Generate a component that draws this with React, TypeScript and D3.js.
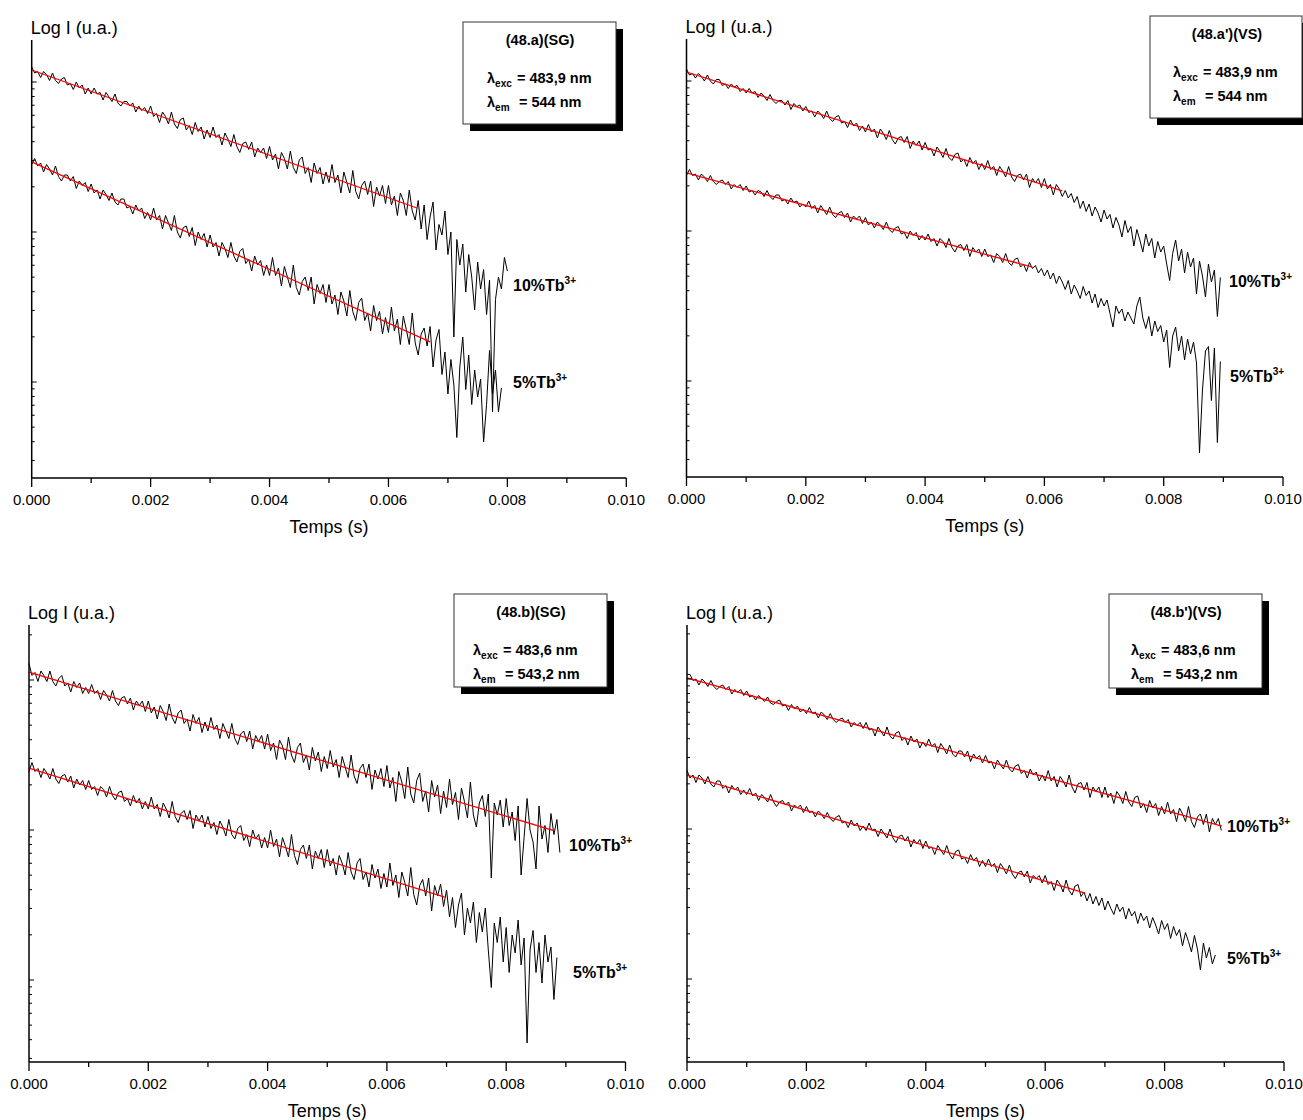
import React from "react";
import * as d3 from "d3";

// ---------- data ----------
const TIME_STEP = 0.00005; // s between samples
const X_TICKS = [0, 0.002, 0.004, 0.006, 0.008, 0.01];
const X_TICK_LABELS = ["0.000", "0.002", "0.004", "0.006", "0.008", "0.010"];
const X_MINOR = [0.001, 0.003, 0.005, 0.007, 0.009];
const SERIES_LABELS = ["10%Tb", "5%Tb"];

// log10 I (u.a.), one value every TIME_STEP
const TL_10 = [
  4.10,4.06,4.07,4.03,4.07,4.05,4.01,4.06,4.01,3.99,
  4.02,4.03,3.98,3.99,3.95,4.00,3.96,3.98,3.92,3.96,
  3.92,3.96,3.92,3.93,3.88,3.93,3.90,3.87,3.92,3.86,
  3.84,3.87,3.87,3.84,3.86,3.80,3.84,3.81,3.83,3.79,
  3.84,3.77,3.79,3.73,3.80,3.77,3.72,3.80,3.72,3.69,
  3.75,3.76,3.68,3.71,3.65,3.73,3.67,3.70,3.62,3.68,
  3.63,3.70,3.63,3.65,3.58,3.66,3.62,3.57,3.65,3.57,
  3.53,3.59,3.60,3.55,3.60,3.50,3.56,3.53,3.56,3.49,
  3.57,3.48,3.52,3.42,3.53,3.49,3.42,3.54,3.43,3.39,
  3.48,3.50,3.39,3.43,3.33,3.46,3.39,3.43,3.32,3.40,
  3.33,3.45,3.33,3.38,3.26,3.40,3.33,3.26,3.41,3.27,
  3.22,3.31,3.34,3.25,3.34,3.17,3.30,3.24,3.31,3.19,
  3.31,3.18,3.24,3.11,3.26,3.21,3.11,3.28,3.14,3.08,
  3.21,3.02,3.18,2.95,3.10,3.20,2.88,3.05,2.98,3.14,
  2.85,3.00,2.30,2.95,2.78,2.92,2.60,2.85,2.70,2.48,
  2.80,2.62,2.75,2.45,2.68,1.80,2.55,2.70,2.62,2.83,2.74,
];
const TL_5 = [
  3.45,3.49,3.44,3.46,3.40,3.45,3.42,3.38,3.44,3.37,
  3.34,3.38,3.38,3.34,3.37,3.29,3.34,3.31,3.33,3.27,
  3.32,3.26,3.28,3.22,3.28,3.25,3.21,3.26,3.20,3.18,
  3.22,3.22,3.16,3.17,3.12,3.18,3.14,3.16,3.09,3.13,
  3.08,3.16,3.08,3.11,3.02,3.11,3.06,3.01,3.11,3.00,
  2.96,3.03,3.04,2.97,3.03,2.91,3.00,2.95,2.99,2.90,
  2.98,2.90,2.93,2.84,2.93,2.89,2.83,2.93,2.84,2.80,
  2.87,2.89,2.79,2.82,2.74,2.84,2.78,2.81,2.71,2.78,
  2.71,2.83,2.71,2.76,2.64,2.77,2.70,2.63,2.78,2.63,
  2.58,2.67,2.70,2.61,2.70,2.52,2.65,2.59,2.65,2.53,
  2.65,2.52,2.58,2.45,2.60,2.54,2.44,2.61,2.47,2.41,
  2.53,2.56,2.41,2.46,2.34,2.51,2.41,2.47,2.32,2.43,
  2.33,2.50,2.34,2.42,2.25,2.44,2.35,2.25,2.46,2.26,
  2.18,2.32,2.36,2.24,2.37,2.10,2.28,2.35,2.05,2.20,
  1.92,2.15,1.98,1.63,2.10,2.30,1.95,2.18,1.85,2.08,
  1.90,2.02,1.60,1.85,2.21,1.92,2.08,1.80,1.96,
];
const TR_10 = [
  4.08,4.04,4.05,4.02,4.05,4.03,4.00,4.04,4.00,3.98,
  4.01,4.01,3.97,3.98,3.95,3.98,3.96,3.97,3.93,3.95,
  3.92,3.95,3.92,3.93,3.89,3.92,3.90,3.87,3.91,3.87,
  3.85,3.87,3.87,3.84,3.87,3.81,3.85,3.83,3.84,3.80,
  3.83,3.79,3.80,3.76,3.80,3.78,3.75,3.80,3.75,3.73,
  3.76,3.77,3.72,3.73,3.69,3.74,3.70,3.72,3.67,3.70,
  3.66,3.71,3.66,3.68,3.62,3.68,3.65,3.61,3.67,3.61,
  3.58,3.62,3.63,3.59,3.63,3.55,3.60,3.57,3.60,3.54,
  3.59,3.54,3.55,3.50,3.56,3.53,3.49,3.55,3.49,3.47,
  3.51,3.52,3.46,3.48,3.43,3.49,3.45,3.47,3.41,3.45,
  3.41,3.47,3.41,3.43,3.37,3.43,3.40,3.36,3.43,3.36,
  3.33,3.37,3.38,3.34,3.38,3.29,3.35,3.32,3.35,3.29,
  3.35,3.28,3.31,3.24,3.31,3.28,3.23,3.27,3.22,3.25,
  3.19,3.23,3.15,3.20,3.13,3.18,3.10,3.16,3.12,3.06,
  3.14,3.08,3.11,3.02,3.09,3.04,2.96,3.07,2.99,3.03,
  2.90,3.01,2.94,2.86,2.98,2.90,2.95,2.82,2.93,2.86,
  2.90,2.78,2.67,2.85,2.94,2.80,2.88,2.72,2.86,2.76,
  2.82,2.58,2.80,2.70,2.56,2.78,2.66,2.74,2.43,2.69,
];
const TR_5 = [
  3.37,3.41,3.37,3.38,3.34,3.38,3.36,3.33,3.37,3.33,
  3.31,3.33,3.34,3.31,3.33,3.28,3.31,3.29,3.31,3.27,
  3.30,3.26,3.27,3.24,3.27,3.26,3.23,3.27,3.23,3.21,
  3.24,3.24,3.20,3.21,3.18,3.22,3.19,3.20,3.16,3.18,
  3.16,3.20,3.15,3.17,3.12,3.17,3.14,3.11,3.16,3.11,
  3.09,3.12,3.13,3.09,3.12,3.06,3.10,3.08,3.10,3.05,
  3.09,3.04,3.06,3.02,3.06,3.04,3.01,3.06,3.01,2.99,
  3.02,3.03,2.98,2.99,2.95,3.00,2.97,2.99,2.94,2.97,
  2.94,2.98,2.93,2.95,2.90,2.95,2.93,2.89,2.95,2.89,
  2.86,2.90,2.91,2.87,2.91,2.83,2.89,2.86,2.88,2.83,
  2.88,2.83,2.84,2.79,2.85,2.83,2.79,2.85,2.79,2.77,
  2.81,2.82,2.76,2.78,2.73,2.79,2.75,2.77,2.72,2.75,
  2.70,2.74,2.68,2.72,2.65,2.70,2.66,2.61,2.67,2.58,
  2.64,2.60,2.55,2.63,2.57,2.60,2.52,2.58,2.49,2.55,
  2.50,2.54,2.45,2.36,2.50,2.45,2.48,2.40,2.46,2.42,
  2.38,2.50,2.56,2.42,2.35,2.43,2.30,2.40,2.33,2.37,
  2.26,2.34,2.09,2.30,2.36,2.20,2.30,2.14,2.28,2.18,
  2.26,2.12,1.52,1.94,2.20,2.23,1.87,2.22,1.59,2.13,
];
const BL_10 = [
  4.11,4.03,4.05,3.99,4.06,4.03,3.99,4.06,3.99,3.96,
  4.01,4.03,3.96,3.98,3.92,3.99,3.95,3.98,3.91,3.95,
  3.91,3.97,3.91,3.93,3.87,3.93,3.90,3.86,3.93,3.86,
  3.83,3.88,3.89,3.84,3.88,3.80,3.86,3.83,3.86,3.79,
  3.86,3.78,3.82,3.74,3.83,3.79,3.73,3.84,3.75,3.71,
  3.78,3.80,3.71,3.74,3.66,3.77,3.71,3.75,3.65,3.72,
  3.66,3.75,3.67,3.70,3.61,3.71,3.66,3.61,3.71,3.61,
  3.57,3.64,3.66,3.59,3.66,3.54,3.63,3.59,3.63,3.54,
  3.64,3.53,3.58,3.47,3.60,3.56,3.47,3.62,3.50,3.45,
  3.55,3.58,3.45,3.50,3.40,3.55,3.46,3.52,3.39,3.49,
  3.41,3.53,3.42,3.47,3.35,3.49,3.42,3.35,3.50,3.36,
  3.31,3.41,3.44,3.35,3.44,3.27,3.40,3.34,3.41,3.29,
  3.43,3.28,3.35,3.19,3.39,3.32,3.21,3.42,3.24,3.18,
  3.33,3.38,3.19,3.26,3.12,3.33,3.22,3.30,3.11,3.26,
  3.15,3.34,3.17,3.25,3.07,3.28,3.19,3.08,3.32,3.10,
  3.02,3.18,3.23,3.09,3.24,2.68,3.18,3.10,3.20,3.02,
  3.21,3.03,3.12,2.93,3.16,2.70,2.95,3.21,3.00,2.92,
  2.74,3.16,2.94,3.03,2.85,3.11,2.97,3.07,2.85,
];
const BL_5 = [
  3.39,3.45,3.39,3.41,3.35,3.41,3.38,3.34,3.41,3.34,
  3.31,3.36,3.37,3.32,3.36,3.28,3.34,3.30,3.33,3.27,
  3.33,3.27,3.29,3.23,3.29,3.27,3.22,3.29,3.23,3.20,
  3.25,3.26,3.19,3.21,3.16,3.23,3.18,3.21,3.14,3.19,
  3.14,3.22,3.14,3.17,3.09,3.18,3.14,3.08,3.19,3.09,
  3.05,3.11,3.13,3.07,3.13,3.01,3.10,3.06,3.10,3.02,
  3.09,3.01,3.05,2.97,3.06,3.02,2.96,3.07,2.97,2.94,
  3.01,3.03,2.93,2.97,2.89,3.00,2.94,2.97,2.88,2.95,
  2.88,3.00,2.89,2.94,2.82,2.95,2.89,2.82,2.97,2.83,
  2.77,2.87,2.90,2.81,2.90,2.74,2.86,2.81,2.87,2.75,
  2.87,2.76,2.81,2.70,2.83,2.78,2.70,2.85,2.72,2.67,
  2.78,2.81,2.67,2.72,2.62,2.77,2.68,2.74,2.61,2.71,
  2.62,2.78,2.63,2.70,2.55,2.72,2.65,2.56,2.75,2.57,
  2.50,2.63,2.67,2.56,2.68,2.46,2.63,2.56,2.64,2.49,
  2.60,2.42,2.55,2.35,2.50,2.58,2.30,2.48,2.38,2.52,
  2.25,2.45,2.32,2.48,2.20,1.95,2.38,2.25,2.42,2.12,
  2.35,2.05,2.30,2.18,2.40,2.10,2.28,1.58,2.20,2.33,
  2.05,2.25,1.98,2.30,2.12,2.22,1.87,2.15,
];
const BR_10 = [
  4.03,4.03,3.99,4.00,3.96,4.00,3.98,3.95,3.99,3.95,
  3.93,3.95,3.96,3.93,3.95,3.90,3.93,3.91,3.93,3.89,
  3.92,3.88,3.89,3.86,3.89,3.87,3.85,3.88,3.84,3.83,
  3.85,3.86,3.82,3.83,3.79,3.83,3.80,3.82,3.78,3.80,
  3.77,3.81,3.77,3.78,3.74,3.78,3.76,3.73,3.77,3.73,
  3.71,3.73,3.74,3.71,3.73,3.68,3.71,3.69,3.71,3.67,
  3.71,3.66,3.67,3.62,3.68,3.65,3.62,3.68,3.62,3.60,
  3.64,3.65,3.59,3.61,3.56,3.62,3.58,3.60,3.54,3.58,
  3.55,3.60,3.55,3.57,3.51,3.57,3.54,3.50,3.56,3.50,
  3.48,3.52,3.52,3.48,3.52,3.45,3.50,3.47,3.49,3.44,
  3.49,3.44,3.45,3.40,3.46,3.43,3.40,3.46,3.40,3.38,
  3.42,3.43,3.37,3.39,3.34,3.40,3.36,3.38,3.32,3.36,
  3.32,3.39,3.32,3.35,3.28,3.35,3.32,3.28,3.36,3.28,
  3.24,3.30,3.31,3.26,3.31,3.21,3.28,3.25,3.28,3.21,
  3.28,3.21,3.24,3.17,3.25,3.22,3.17,3.25,3.18,3.15,
  3.21,3.22,3.14,3.17,3.11,3.19,3.14,3.17,3.09,3.15,
  3.10,3.18,3.10,3.13,3.05,3.14,3.10,3.05,3.15,3.05,
  3.01,3.08,3.10,3.03,3.10,2.98,3.07,3.03,3.07,2.99,
];
const BR_5 = [
  3.39,3.34,3.36,3.31,3.36,3.34,3.30,3.35,3.30,3.28,
  3.32,3.32,3.27,3.29,3.24,3.29,3.26,3.28,3.23,3.26,
  3.23,3.27,3.22,3.24,3.19,3.23,3.21,3.18,3.23,3.18,
  3.15,3.18,3.19,3.16,3.18,3.12,3.16,3.14,3.16,3.11,
  3.15,3.11,3.12,3.08,3.12,3.10,3.07,3.11,3.07,3.05,
  3.08,3.09,3.04,3.05,3.01,3.06,3.02,3.04,2.99,3.02,
  2.99,3.04,2.99,3.00,2.95,3.00,2.97,2.94,3.00,2.94,
  2.91,2.95,2.96,2.92,2.95,2.88,2.93,2.90,2.93,2.87,
  2.92,2.87,2.88,2.83,2.89,2.86,2.83,2.89,2.83,2.80,
  2.85,2.86,2.80,2.81,2.77,2.83,2.79,2.81,2.75,2.79,
  2.75,2.80,2.75,2.77,2.71,2.77,2.74,2.70,2.76,2.70,
  2.67,2.71,2.72,2.68,2.72,2.64,2.69,2.67,2.69,2.64,
  2.69,2.63,2.65,2.59,2.66,2.63,2.58,2.66,2.59,2.56,
  2.62,2.63,2.55,2.58,2.52,2.57,2.50,2.55,2.49,2.54,
  2.46,2.52,2.47,2.43,2.50,2.45,2.48,2.40,2.47,2.42,
  2.45,2.37,2.44,2.39,2.42,2.34,2.41,2.36,2.30,2.39,
  2.33,2.37,2.27,2.35,2.29,2.33,2.22,2.31,2.25,2.18,
  2.29,2.20,2.06,2.24,2.14,2.21,2.10,2.16,
];

// linear fits in log scale: [time, log I] endpoints
const TL_10_FIT = [[0, 4.08], [0.00648, 3.16]];
const TL_5_FIT = [[0, 3.467], [0.0067, 2.267]];
const TR_10_FIT = [[0, 4.06], [0.0063, 3.268]];
const TR_5_FIT = [[0, 3.387], [0.0058, 2.759]];
const BL_10_FIT = [[0, 4.053], [0.0088, 2.996]];
const BL_5_FIT = [[0, 3.413], [0.00697, 2.553]];
const BR_10_FIT = [[0, 4.007], [0.00896, 3.02]];
const BR_5_FIT = [[0, 3.36], [0.00667, 2.573]];

const TITLES = ["(48.a)(SG)", "(48.a')(VS)", "(48.b)(SG)", "(48.b')(VS)"];
const EXC = ["483,9 nm", "483,9 nm", "483,6 nm", "483,6 nm"];
const EM = ["544 nm", "544 nm", "543,2 nm", "543,2 nm"];

// ---------- layout ----------
const FONT = "'Liberation Sans', Arial, Helvetica, sans-serif";

const PANELS = [
  {
    x0: 31.7, x1: 626.3, yTop: 40, yBottom: 478, yMin: 1.36, yMax: 4.28,
    traces: [TL_10, TL_5], fits: [TL_10_FIT, TL_5_FIT],
    box: { x: 463, y: 22, w: 153, h: 102, tx: 540, lx: 487 },
    labels: [{ x: 513, y: 291 }, { x: 513, y: 388 }],
  },
  {
    x0: 686.5, x1: 1283, yTop: 39, yBottom: 477, yMin: 1.36, yMax: 4.28,
    traces: [TR_10, TR_5], fits: [TR_10_FIT, TR_5_FIT],
    box: { x: 1150, y: 16, w: 152, h: 102, tx: 1227, lx: 1173 },
    labels: [{ x: 1229, y: 287 }, { x: 1230, y: 382 }],
  },
  {
    x0: 29, x1: 625.5, yTop: 625, yBottom: 1062, yMin: 1.4533, yMax: 4.3667,
    traces: [BL_10, BL_5], fits: [BL_10_FIT, BL_5_FIT],
    box: { x: 454, y: 594, w: 153, h: 93, tx: 531, lx: 473 },
    labels: [{ x: 569, y: 851 }, { x: 573, y: 978 }],
  },
  {
    x0: 687, x1: 1284, yTop: 625, yBottom: 1062, yMin: 1.4467, yMax: 4.36,
    traces: [BR_10, BR_5], fits: [BR_10_FIT, BR_5_FIT],
    box: { x: 1109, y: 594, w: 153, h: 94, tx: 1186, lx: 1131 },
    labels: [{ x: 1227, y: 832 }, { x: 1227, y: 964 }],
  },
];

function Panel({ p, idx }: { p: any; idx: number }) {
  const x = d3.scaleLinear().domain([0, 0.01]).range([p.x0, p.x1]);
  const y = d3.scaleLinear().domain([p.yMin, p.yMax]).range([p.yBottom, p.yTop]);
  const trace = d3
    .line<number>()
    .x((_, i) => x(i * TIME_STEP))
    .y((v) => y(v));
  const fit = d3
    .line<number[]>()
    .x((d) => x(d[0]))
    .y((d) => y(d[1]));

  const logTicks: { v: number; major: boolean }[] = [];
  for (let n = 1; n <= 4; n++) {
    for (let k = 1; k <= 9; k++) {
      const v = n + Math.log10(k);
      if (v >= p.yMin && v <= p.yMax) logTicks.push({ v, major: k === 1 });
    }
  }
  const b = p.box;

  return (
    <g>
      {p.traces.map((t: number[], i: number) => (
        <path key={"t" + i} d={trace(t) || ""} fill="none" stroke="#000" strokeWidth={1} strokeLinejoin="round" />
      ))}
      {p.fits.map((f: number[][], i: number) => (
        <path key={"f" + i} d={fit(f) || ""} fill="none" stroke="#ff0000" strokeWidth={1.3} />
      ))}

      {/* y axis */}
      <line x1={p.x0} x2={p.x0} y1={p.yTop} y2={p.yBottom} stroke="#000" strokeWidth={1.5} />
      {logTicks.map((t, i) => (
        <line key={"yt" + i} x1={p.x0} x2={p.x0 + (t.major ? 5 : 3)} y1={y(t.v)} y2={y(t.v)} stroke="#000" strokeWidth={1} />
      ))}
      <text x={p.x0 - 1} y={p.yTop - 6} fontFamily={FONT} fontSize={18} fill="#000">
        Log I (u.a.)
      </text>

      {/* x axis */}
      <line x1={p.x0} x2={p.x1} y1={p.yBottom} y2={p.yBottom} stroke="#000" strokeWidth={1.5} />
      {X_TICKS.map((t, i) => (
        <g key={"xt" + i}>
          <line x1={x(t)} x2={x(t)} y1={p.yBottom} y2={p.yBottom + 9} stroke="#000" strokeWidth={1.3} />
          <text x={x(t)} y={p.yBottom + 27} textAnchor="middle" fontFamily={FONT} fontSize={15} fill="#000">
            {X_TICK_LABELS[i]}
          </text>
        </g>
      ))}
      {X_MINOR.map((t, i) => (
        <line key={"xm" + i} x1={x(t)} x2={x(t)} y1={p.yBottom} y2={p.yBottom + 5} stroke="#000" strokeWidth={1.3} />
      ))}
      <text x={(p.x0 + p.x1) / 2} y={p.yBottom + 55} textAnchor="middle" fontFamily={FONT} fontSize={18} fill="#000">
        Temps (s)
      </text>

      {/* series labels */}
      {p.labels.map((l: any, i: number) => (
        <text key={"l" + i} x={l.x} y={l.y} fontFamily={FONT} fontSize={16} fontWeight="bold" fill="#000">
          {SERIES_LABELS[i]}
          <tspan fontSize={10} dy={-7}>3+</tspan>
        </text>
      ))}

      {/* legend box */}
      <rect x={b.x + 7} y={b.y + 7} width={b.w} height={b.h} fill="#000" />
      <rect x={b.x} y={b.y} width={b.w} height={b.h} fill="#fff" stroke="#333" strokeWidth={1} />
      <text x={b.tx} y={b.y + 23} textAnchor="middle" fontFamily={FONT} fontSize={14.5} fontWeight="bold" fill="#000">
        {TITLES[idx]}
      </text>
      <text y={b.y + 61} fontFamily={FONT} fontSize={14.5} fontWeight="bold" fill="#000">
        <tspan x={b.lx}>λ</tspan>
        <tspan fontSize={10} dy={4}>exc</tspan>
        <tspan x={b.lx + 30} dy={-4}>{"= " + EXC[idx]}</tspan>
      </text>
      <text y={b.y + 85} fontFamily={FONT} fontSize={14.5} fontWeight="bold" fill="#000">
        <tspan x={b.lx}>λ</tspan>
        <tspan fontSize={10} dy={4}>em</tspan>
        <tspan x={b.lx + 32} dy={-4}>{"= " + EM[idx]}</tspan>
      </text>
    </g>
  );
}

export default function App() {
  return (
    <svg
      width={1303}
      height={1120}
      viewBox="0 0 1303 1120"
      style={{ position: "absolute", left: 0, top: 0, background: "#fff" }}
    >
      <rect x={0} y={0} width={1303} height={1120} fill="#fff" />
      {PANELS.map((p, i) => (
        <Panel key={i} p={p} idx={i} />
      ))}
    </svg>
  );
}
